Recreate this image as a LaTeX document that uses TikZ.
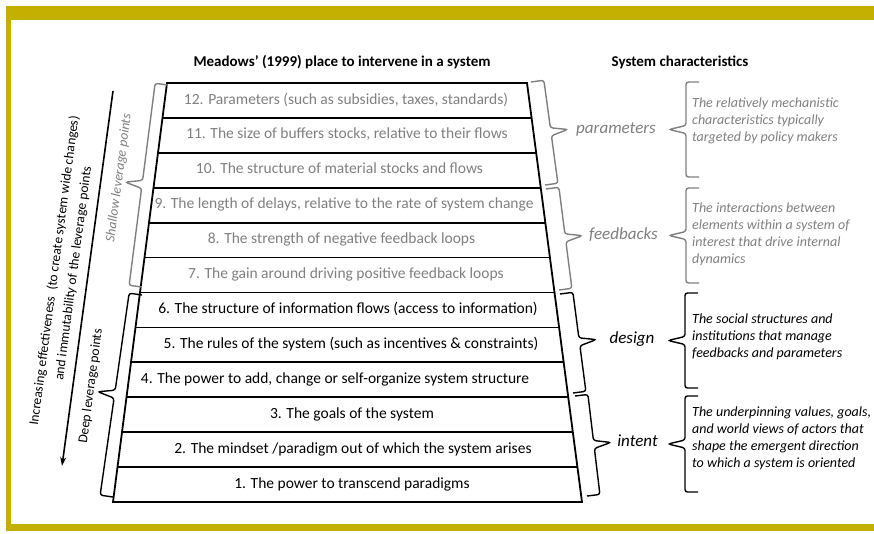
\documentclass[tikz,border=0pt]{standalone}
\usepackage{fontspec}
\setmainfont{Carlito}
\usetikzlibrary{arrows.meta,calc}
\usepackage{xcolor}
\definecolor{frameolive}{HTML}{C3B000}
\definecolor{midgray}{HTML}{7F7F7F}
\definecolor{dark}{HTML}{000000}
\tikzset{
  rowtext/.style={font=\fontsize{15.5}{18}\selectfont, text height=10pt, text depth=3pt, inner sep=0pt},
  shallowtext/.style={rowtext, text=midgray},
  deeptext/.style={rowtext, text=dark},
  stairline/.style={draw=dark, line width=1.8pt},
  bracegray/.style={draw=midgray, line width=1.4pt, rounded corners=2.5pt},
  braceblack/.style={draw=dark, line width=1.4pt, rounded corners=2.5pt},
  charlabel/.style={font=\itshape\fontsize{17}{20}\selectfont, inner sep=0pt},
  desctext/.style={font=\itshape\fontsize{14}{17}\selectfont, align=left, anchor=west, inner sep=0pt},
  titletext/.style={font=\bfseries\fontsize{15}{18}\selectfont, inner sep=0pt},
  sidetext/.style={rotate=82.5, inner sep=0pt, align=center},
  arrow/.style={-{Stealth[length=9pt,width=6pt]}, line width=1.6pt, draw=dark}
}
% curly brace: style, start, end (tip on the left of start->end)
\newcommand{\spinebrace}[3]{%
  \coordinate (bm) at ($(#2)!.5!(#3)$);
  \coordinate (bma) at ($(bm)!4pt!(#2)$);
  \coordinate (bmb) at ($(bm)!4pt!(#3)$);
  \draw[#1] (#2) -- ($(#2)!13pt!90:(#3)$) -- ($(bma)!13pt!90:(#3)$) -- ($(bm)!30pt!90:(#3)$)
    -- ($(bmb)!13pt!90:(#3)$) -- ($(#3)!13pt!-90:(#2)$) -- (#3);
}

\begin{document}
\begin{tikzpicture}[x=1pt, y=-1pt]
  \useasboundingbox (0,0) rectangle (874,533);
  % frame
  \fill[frameolive] (6,6) rectangle (874,20);
  \fill[frameolive] (6,6) rectangle (11,531);
  \fill[frameolive] (6,524) rectangle (874,531);

  % titles
  \node[titletext] (title) at (342,62) {Meadows’ (1999) place to intervene in a system};
  \node[titletext] (chartitle) at (680,62) {System characteristics};

  % the ladder
  \coordinate (tl) at (167,83);
  \coordinate (tr) at (527,83);
  \coordinate (bl) at (113,502);
  \coordinate (br) at (582,502);
  \draw[stairline] (tl) -- (tr) -- (br) -- (bl) -- cycle;
  \foreach \k in {1,...,11}
    \draw[stairline] ($(tl)!\k/12!(bl)$) -- ($(tr)!\k/12!(br)$);

  \node[shallowtext] (r12) at (346,100.5) {12. Parameters (such as subsidies, taxes, standards)};
  \node[shallowtext] (r11) at (347,135.4) {11. The size of buffers stocks, relative to their flows};
  \node[shallowtext] (r10) at (339.5,170.3) {10. The structure of material stocks and flows};
  \node[shallowtext] (r9) at (344,205.2) {9. The length of delays, relative to the rate of system change};
  \node[shallowtext] (r8) at (341.5,240.1) {8. The strength of negative feedback loops};
  \node[shallowtext] (r7) at (346,275) {7. The gain around driving positive feedback loops};
  \node[deeptext] (r6) at (348,310) {6. The structure of information flows (access to information)};
  \node[deeptext] (r5) at (351,344.9) {5. The rules of the system (such as incentives \& constraints)};
  \node[deeptext] (r4) at (335,379.8) {4. The power to add, change or self-organize system structure};
  \node[deeptext] (r3) at (352,414.7) {3. The goals of the system};
  \node[deeptext] (r2) at (353,449.6) {2. The mindset /paradigm out of which the system arises};
  \node[deeptext] (r1) at (352,484.5) {1. The power to transcend paradigms};

  % left side
  \coordinate (arrtop) at (113,91);
  \coordinate (arrbot) at (62,466);
  \draw[arrow] (arrtop) -- (arrbot);
  \node[sidetext, font=\fontsize{13.5}{19}\selectfont] (effect) at (64,272)
    {Increasing effectiveness~ (to create system wide changes)\\and immutability of the leverage points};

  \coordinate (shal-a) at (142,287);
  \coordinate (shal-b) at (168,85);
  \coordinate (deep-a) at (113,497);
  \coordinate (deep-b) at (142,295);
  \spinebrace{bracegray}{shal-a}{shal-b}
  \spinebrace{braceblack}{deep-a}{deep-b}
  \node[sidetext, text=midgray, font=\itshape\fontsize{13.5}{16}\selectfont] (shallow) at (119,178) {Shallow leverage points};
  \node[sidetext, font=\fontsize{13.5}{16}\selectfont] (deep) at (91,386) {Deep leverage points};

  % right side: ladder braces
  \coordinate (par-a) at (531,82);
  \coordinate (par-b) at (545,185);
  \coordinate (feed-a) at (546,189);
  \coordinate (feed-b) at (559,290);
  \coordinate (des-a) at (560,294);
  \coordinate (des-b) at (573,393);
  \coordinate (int-a) at (575,396);
  \coordinate (int-b) at (587,496);
  \spinebrace{bracegray}{par-a}{par-b}
  \spinebrace{bracegray}{feed-a}{feed-b}
  \spinebrace{braceblack}{des-a}{des-b}
  \spinebrace{braceblack}{int-a}{int-b}

  \node[charlabel, text=midgray] (lpar) at (616,129) {parameters};
  \node[charlabel, text=midgray] (lfeed) at (623.5,235) {feedbacks};
  \node[charlabel] (ldes) at (632,339) {design};
  \node[charlabel] (lint) at (637.5,441) {intent};

  % right side: description braces
  \coordinate (dpar-a) at (699,177);
  \coordinate (dpar-b) at (699,82);
  \coordinate (dfeed-a) at (699,283);
  \coordinate (dfeed-b) at (699,188);
  \coordinate (ddes-a) at (698,388);
  \coordinate (ddes-b) at (698,293);
  \coordinate (dint-a) at (698,492);
  \coordinate (dint-b) at (698,396);
  \spinebrace{bracegray}{dpar-a}{dpar-b}
  \spinebrace{bracegray}{dfeed-a}{dfeed-b}
  \spinebrace{braceblack}{ddes-a}{ddes-b}
  \spinebrace{braceblack}{dint-a}{dint-b}

  \node[desctext, text=midgray] (dpar) at (692,121)
    {The relatively mechanistic\\characteristics typically\\targeted by policy makers};
  \node[desctext, text=midgray] (dfeed) at (692,234)
    {The interactions between\\elements within a system of\\interest that drive internal\\dynamics};
  \node[desctext] (ddes) at (692,337)
    {The social structures and\\institutions that manage\\feedbacks and parameters};
  \node[desctext] (dint) at (692,438.5)
    {The underpinning values, goals,\\and world views of actors that\\shape the emergent direction\\to which a system is oriented};
\end{tikzpicture}
\end{document}
